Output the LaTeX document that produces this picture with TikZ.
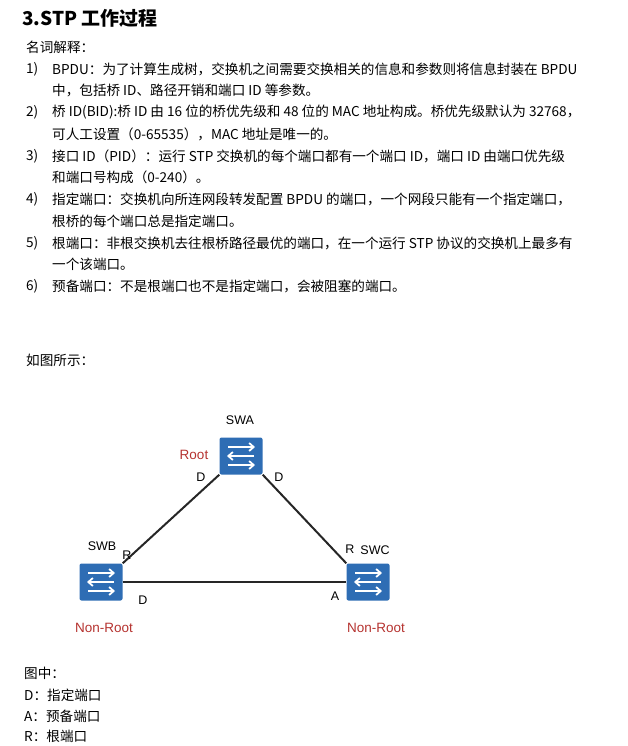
\documentclass[tikz,border=0pt]{standalone}
\usepackage{fontspec}
\setmainfont{Noto Sans CJK SC}
\newfontfamily\lat{Liberation Sans}
\usetikzlibrary{arrows.meta}
\definecolor{swblue}{HTML}{2E6DB4}
\definecolor{rootred}{HTML}{B5322F}
\tikzset{
  body/.style={anchor=west,font=\fontsize{13.6}{15}\selectfont,inner sep=0},
  lbl/.style={font=\lat\fontsize{12.5}{13}\selectfont,inner sep=0},
  red/.style={lbl,text=rootred,font=\lat\fontsize{13.5}{14}\selectfont},
  sw/.style={fill=swblue,rounded corners=2pt,minimum width=43pt,minimum height=37pt,inner sep=0},
  link/.style={line width=2pt,black!85}
}
\newcommand{\swicon}[1]{%
  \draw[white,line width=1.8pt,-{Straight Barb[length=4.5pt,width=8pt]}] ([shift={(-13,-9)}]#1.center) -- ([shift={(14,-9)}]#1.center);
  \draw[white,line width=1.8pt,-{Straight Barb[length=4.5pt,width=8pt]}] ([shift={(13,0)}]#1.center) -- ([shift={(-14,0)}]#1.center);
  \draw[white,line width=1.8pt,-{Straight Barb[length=4.5pt,width=8pt]}] ([shift={(-13,9)}]#1.center) -- ([shift={(14,9)}]#1.center);
}
\begin{document}
\begin{tikzpicture}[x=1pt,y=-1pt]
\useasboundingbox (0,0) rectangle (628,746);
\node[anchor=west,inner sep=0,font=\bfseries\fontsize{19}{22}\selectfont] (title) at (22,18) {3.STP 工作过程};
\node[body] (t0) at (26,47) {名词解释：};
\node[body] (n1) at (26,69) {1)};
\node[body] (l1) at (52,69) {BPDU：为了计算生成树，交换机之间需要交换相关的信息和参数则将信息封装在 BPDU};
\node[body] (l1b) at (52,90) {中，包括桥 ID、路径开销和端口 ID 等参数。};
\node[body] (n2) at (26,112) {2)};
\node[body] (l2) at (52,112) {桥 ID(BID):桥 ID 由 16 位的桥优先级和 48 位的 MAC 地址构成。桥优先级默认为 32768，};
\node[body] (l2b) at (52,134) {可人工设置（0-65535），MAC 地址是唯一的。};
\node[body] (n3) at (26,156) {3)};
\node[body] (l3) at (52,156) {接口 ID（PID）：运行 STP 交换机的每个端口都有一个端口 ID，端口 ID 由端口优先级};
\node[body] (l3b) at (52,177) {和端口号构成（0-240）。};
\node[body] (n4) at (26,199) {4)};
\node[body] (l4) at (52,199) {指定端口：交换机向所连网段转发配置 BPDU 的端口，一个网段只能有一个指定端口，};
\node[body] (l4b) at (52,221) {根桥的每个端口总是指定端口。};
\node[body] (n5) at (26,243) {5)};
\node[body] (l5) at (52,243) {根端口：非根交换机去往根桥路径最优的端口，在一个运行 STP 协议的交换机上最多有};
\node[body] (l5b) at (52,264) {一个该端口。};
\node[body] (n6) at (26,286) {6)};
\node[body] (l6) at (52,286) {预备端口：不是根端口也不是指定端口，会被阻塞的端口。};
\node[body] (fig) at (26,360) {如图所示：};

\node[sw] (swa) at (241,456) {};
\node[sw] (swb) at (101,582) {};
\node[sw] (swc) at (368,582) {};
\draw[link] (swa.south west) -- (swb.north east);
\draw[link] (swa.south east) -- (swc.north west);
\draw[link] (swb.east) -- (swc.west);
\swicon{swa}\swicon{swb}\swicon{swc}

\node[lbl] (la) at (240,420) {SWA};
\node[red] (root) at (194,455) {Root};
\node[lbl] (d1) at (201,477) {D};
\node[lbl] (d2) at (279,477) {D};
\node[lbl] (lb) at (102,546) {SWB};
\node[lbl] (r1) at (127,555) {R};
\node[lbl] (d3) at (143,600) {D};
\node[lbl] (r2) at (350,549) {R};
\node[lbl] (lc) at (375,550) {SWC};
\node[lbl] (a1) at (335,596) {A};
\node[red] (nr1) at (104,628) {Non-Root};
\node[red] (nr2) at (376,628) {Non-Root};

\node[body] (b0) at (24,673) {图中：};
\node[body] (b1) at (24,695) {D：指定端口};
\node[body] (b2) at (24,716) {A：预备端口};
\node[body] (b3) at (24,736) {R：根端口};
\end{tikzpicture}
\end{document}
